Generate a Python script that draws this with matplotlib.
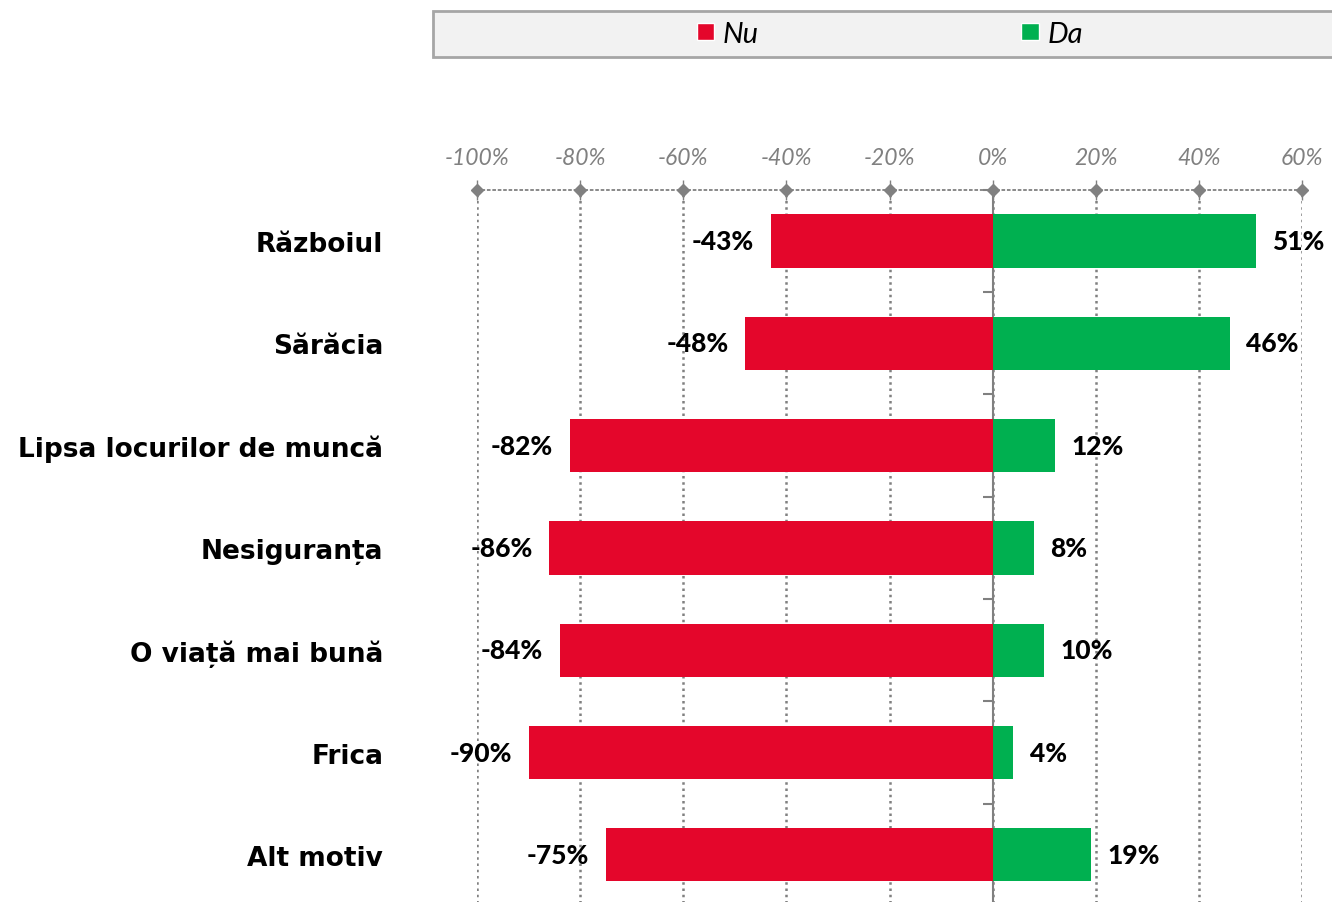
import matplotlib
matplotlib.use("Agg")
import matplotlib.pyplot as plt
from matplotlib.patches import Rectangle
from matplotlib import font_manager as fm
import numpy as np

categories = ["Războiul", "Sărăcia", "Lipsa locurilor de muncă", "Nesiguranța",
              "O viață mai bună", "Frica", "Alt motiv"]
nu_values = [-43, -48, -82, -86, -84, -90, -75]
da_values = [51, 46, 12, 8, 10, 4, 19]
x_ticks = [-100, -80, -60, -40, -20, 0, 20, 40, 60]
x_tick_labels = ["-100%", "-80%", "-60%", "-40%", "-20%", "0%", "20%", "40%", "60%"]
series_names = ["Nu", "Da"]

RED = "#E4062B"
GREEN = "#00B050"
GRAY = "#808080"

# pick a bold font for the value labels
def has_bold(family):
    try:
        path = fm.findfont(fm.FontProperties(family=family, weight="bold"),
                           fallback_to_default=False)
        return "bold" in path.lower() or "black" in path.lower() or "heavy" in path.lower()
    except Exception:
        return False

bold_family = "Lato"
label_size = 19
for fam, sz in [("Lato", 19), ("Roboto", 18), ("Open Sans", 17), ("Liberation Sans", 18)]:
    if has_bold(fam):
        bold_family, label_size = fam, sz
        break

W, H = 1332, 903
fig = plt.figure(figsize=(W / 100, H / 100), dpi=100)

left_px, right_px, top_px, bottom_px = 477, 1302, 190.8, 907
ax = fig.add_axes([left_px / W, 1 - bottom_px / H,
                   (right_px - left_px) / W, (bottom_px - top_px) / H])

y = np.arange(len(categories))
bars_nu = ax.barh(y, nu_values, height=0.52, color=RED, label=series_names[0], zorder=3)
bars_da = ax.barh(y, da_values, height=0.52, color=GREEN, label=series_names[1], zorder=3)

ax.set_xlim(x_ticks[0], x_ticks[-1])
ax.set_ylim(len(categories) - 0.5, -0.5)

# bar labels
lab_font = dict(family=bold_family, fontweight=900, fontsize=label_size, color="black")
ax.bar_label(bars_nu, labels=[f"{v}%" for v in nu_values], padding=12, **lab_font)
ax.bar_label(bars_da, labels=[f"{v}%" for v in da_values], padding=12, **lab_font)

# x axis on top
ax.xaxis.tick_top()
ax.set_xticks(x_ticks)
ax.set_xticklabels(x_tick_labels, family="Lato", style="italic", size=16.5, color=GRAY)
ax.tick_params(axis="x", which="major", length=14, direction="inout", width=1,
               color=GRAY, pad=9)
ax.grid(axis="x", linestyle=(0, (1, 1.5)), color=GRAY, linewidth=1.8, zorder=0)

# diamond markers on top line
ax.plot(x_ticks, [1] * len(x_ticks), linestyle="none", marker="D", markersize=6,
        color=GRAY, transform=ax.get_xaxis_transform(), clip_on=False, zorder=5)

# category labels
ax.set_yticks(y)
ax.set_yticklabels(categories, family="DejaVu Sans", weight="bold", size=19, color="black")
ax.tick_params(axis="y", length=0, pad=67.5)

for s in ["left", "right", "bottom"]:
    ax.spines[s].set_visible(False)
ax.spines["top"].set_linestyle((0, (1, 2)))
ax.spines["top"].set_color(GRAY)
ax.spines["top"].set_linewidth(1.3)

# vertical zero axis with boundary ticks
zero_loc = (0 - x_ticks[0]) / (x_ticks[-1] - x_ticks[0])
sec = ax.secondary_yaxis(zero_loc)
sec.set_alignment("left")
sec.set_yticks(np.arange(len(categories) + 1) - 0.5)
sec.set_yticklabels([])
sec.tick_params(axis="y", length=7, width=1.5, color=GRAY, direction="out")
sec.spines["left"].set_visible(True)
sec.spines["left"].set_color(GRAY)
sec.spines["left"].set_linewidth(1.5)
for s in ["right", "top", "bottom"]:
    sec.spines[s].set_visible(False)

# legend box
fig.patches.append(Rectangle((433 / W, 1 - 58 / H), 920 / W, 46 / H,
                             transform=fig.transFigure, facecolor="#F2F2F2",
                             edgecolor="#A6A6A6", linewidth=2, zorder=0))
leg = fig.legend(handles=[bars_nu, bars_da], labels=series_names, loc="center",
                 bbox_to_anchor=(890 / W, 1 - 35 / H), ncol=2, frameon=False,
                 prop=dict(family="Lato", style="italic", size=21),
                 handlelength=0.6, handleheight=0.55, handletextpad=0.3,
                 columnspacing=9.0)
for h in leg.legend_handles:
    h.set_edgecolor("white")
    h.set_linewidth(1)

fig.savefig("out.png", dpi=100)
